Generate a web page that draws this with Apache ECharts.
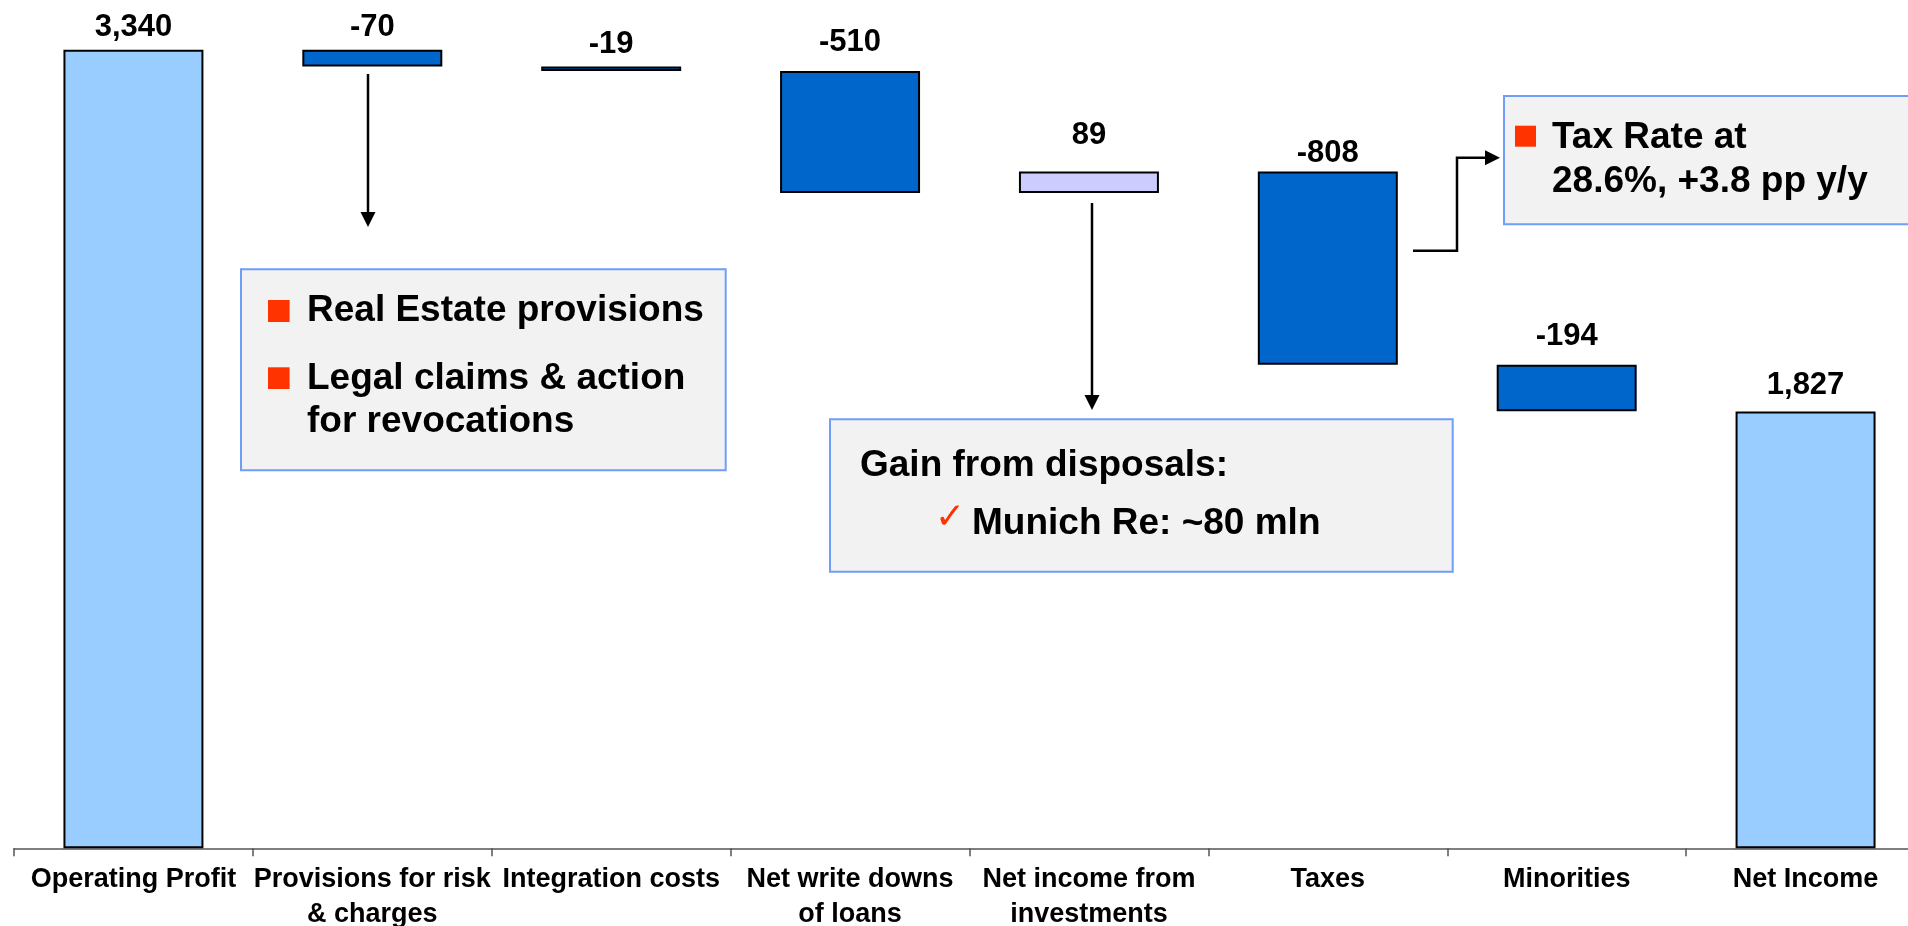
<!DOCTYPE html>
<html>
<head>
<meta charset="utf-8">
<script src="https://cdn.jsdelivr.net/npm/echarts@6/dist/echarts.min.js"></script>
<style>
  html, body { margin: 0; padding: 0; background: #ffffff; }
  #chart { width: 1908px; height: 926px; }
</style>
</head>
<body>
<div id="chart"></div>
<script>
// Waterfall: from operating profit to net income (EUR mln)
const categories = [
  'Operating Profit',
  'Provisions for risk\n& charges',
  'Integration costs',
  'Net write downs\nof loans',
  'Net income from\ninvestments',
  'Taxes',
  'Minorities',
  'Net Income'
];
const values = [3340, -70, -19, -510, 89, -808, -194, 1827];
const isTotal = [true, false, false, false, false, false, false, true];

// space between each value label and the top of its bar
const labelGap = [7, 7, 6, 12.5, 21, 2.5, 13, 10.5];

const FONT = '"Liberation Sans", Arial, Helvetica, sans-serif';
const COLOR_TOTAL = '#99ccff';
const COLOR_DOWN = '#0066cc';
const COLOR_UP = '#ccccff';

// invisible base + visible step for every column
const baseData = [];
const stepData = [];
let level = 0;
values.forEach((v, i) => {
  let base, height, color;
  if (isTotal[i]) {
    base = 0; height = v; level = v; color = COLOR_TOTAL;
  } else if (v < 0) {
    base = level + v; height = -v; level += v; color = COLOR_DOWN;
  } else {
    base = level; height = v; level += v; color = COLOR_UP;
  }
  baseData.push(base);
  stepData.push({
    value: height,
    itemStyle: { color: color },
    label: { distance: labelGap[i] }
  });
});

const fmt = v => (v < 0 ? '-' : '') + Math.abs(v).toLocaleString('en-US');

const chart = echarts.init(document.getElementById('chart'), null, { renderer: 'canvas' });

const boxFont = 'bold 37px ' + FONT;
const BASE_OFF = 12.8; // alphabetic baseline below the middle line at 37px

function line(text, x, baseline) {
  return {
    type: 'text', x: x, y: baseline - BASE_OFF, z: 20,
    style: { text: text, font: boxFont, fill: '#000', align: 'left', textAlign: 'left',
             verticalAlign: 'middle', textVerticalAlign: 'middle' }
  };
}
function bullet(x, y, w, h) {
  return { type: 'rect', z: 20, shape: { x: x, y: y, width: w, height: h }, style: { fill: '#ff3300' } };
}
function box(x, y, w, h) {
  return { type: 'rect', z: 15, shape: { x: x, y: y, width: w, height: h },
           style: { fill: '#f2f2f2', stroke: '#6f9df8', lineWidth: 2 } };
}
function stroke(points) {
  return { type: 'polyline', z: 20, shape: { points: points },
           style: { stroke: '#000', lineWidth: 2.5, fill: null } };
}
function head(points) {
  return { type: 'polygon', z: 20, shape: { points: points }, style: { fill: '#000' } };
}

chart.setOption({
  animation: false,
  backgroundColor: '#ffffff',
  grid: { left: 14, top: 11.4, width: 1911, height: 836.9, containLabel: false, outerBoundsMode: 'none' },
  xAxis: {
    type: 'category',
    data: categories,
    axisLine: { show: true, lineStyle: { color: '#555555', width: 1.5 } },
    axisTick: { show: true, length: 8, lineStyle: { color: '#555555', width: 1.5 } },
    axisLabel: {
      interval: 0, color: '#000', fontFamily: FONT, fontWeight: 'bold',
      fontSize: 27, lineHeight: 35, margin: 14
    },
    splitLine: { show: false }
  },
  yAxis: {
    type: 'value', min: 0, max: 3500, show: false,
    splitLine: { show: false }
  },
  series: [
    {
      name: 'base', type: 'bar', stack: 'wf', data: baseData, silent: true,
      barWidth: '58.6%',
      itemStyle: { color: 'rgba(0,0,0,0)', borderWidth: 0 },
      emphasis: { disabled: true }
    },
    {
      name: 'step', type: 'bar', stack: 'wf', data: stepData, silent: true,
      barWidth: '58.6%',
      itemStyle: { borderColor: '#000', borderWidth: 2 },
      emphasis: { disabled: true },
      label: {
        show: true, position: 'top', color: '#000',
        fontFamily: FONT, fontWeight: 'bold', fontSize: 31,
        formatter: p => fmt(values[p.dataIndex])
      }
    }
  ],
  graphic: [
    // provisions call-out
    stroke([[368, 74], [368, 213]]),
    head([[360.5, 212], [375.5, 212], [368, 227]]),
    box(241, 269.3, 484.7, 201),
    bullet(268, 300, 21.6, 22),
    line('Real Estate provisions', 307, 324),
    bullet(268, 367.3, 21.6, 21.7),
    line('Legal claims & action', 307, 391.7),
    line('for revocations', 307, 435),

    // investments call-out
    stroke([[1092, 203], [1092, 396]]),
    head([[1084.5, 395], [1099.5, 395], [1092, 410]]),
    box(830, 419.3, 622.7, 152.4),
    line('Gain from disposals:', 860, 478.3),
    {
      type: 'text', x: 950, y: 519, z: 20,
      style: { text: '\u2713', font: 'bold 36px "DejaVu Sans", sans-serif', fill: '#ff3300',
               align: 'center', textAlign: 'center', verticalAlign: 'middle', textVerticalAlign: 'middle' }
    },
    line('Munich Re: ~80 mln', 972, 536.7),

    // tax call-out
    stroke([[1413, 250.7], [1457, 250.7], [1457, 157.7], [1487, 157.7]]),
    head([[1485, 150.2], [1485, 165.2], [1500, 157.7]]),
    box(1504, 96, 430, 128.3),
    bullet(1515, 125.7, 21, 21),
    line('Tax Rate at', 1552, 150.7),
    line('28.6%, +3.8 pp y/y', 1552, 195)
  ]
});
</script>
</body>
</html>
